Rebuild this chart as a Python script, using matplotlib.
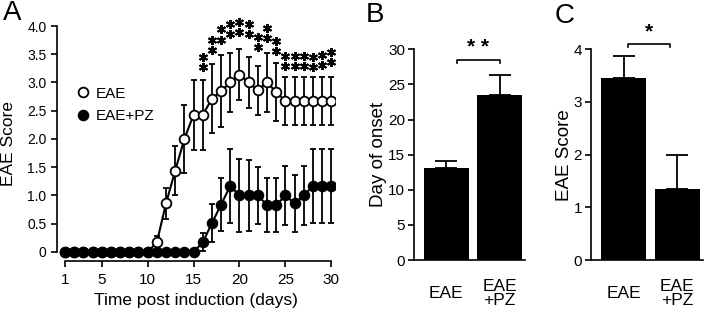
import numpy as np
import matplotlib
matplotlib.use('Agg')
import matplotlib.pyplot as plt
from matplotlib.lines import Line2D

plt.rcParams['font.family'] = ['Liberation Sans', 'DejaVu Sans']

# Panel A: clinical score over time
days = np.arange(1, 31)
eae_mean = [0] * 10 + [0.17, 0.86, 1.44, 2.0, 2.43, 2.43, 2.71, 2.85, 3.0, 3.14,
                       3.0, 2.86, 3.0, 2.83, 2.67, 2.67, 2.67, 2.67, 2.67, 2.67]
eae_err = [0] * 10 + [0.12, 0.27, 0.44, 0.6, 0.62, 0.62, 0.61, 0.63, 0.53, 0.45,
                      0.45, 0.44, 0.52, 0.52, 0.43, 0.43, 0.43, 0.43, 0.43, 0.43]
pz_mean = [0] * 15 + [0.17, 0.51, 0.84, 1.17, 1.0, 1.0, 1.0, 0.83, 0.83, 1.0,
                      0.86, 1.0, 1.17, 1.17, 1.17]
pz_err = [0] * 15 + [0.16, 0.34, 0.47, 0.66, 0.64, 0.63, 0.5, 0.48, 0.48, 0.52,
                     0.51, 0.52, 0.65, 0.65, 0.65]
sig_days = np.arange(16, 31)
sig_low = [3.28, 3.57, 3.76, 3.85, 3.89, 3.86, 3.62, 3.78, 3.55, 3.29,
           3.29, 3.29, 3.27, 3.31, 3.36]

# Panel B: day of onset
groups = ['EAE', 'EAE\n+PZ']
onset_mean = [13.1, 23.5]
onset_err = [1.0, 2.8]

# Panel C: max score
score_mean = [3.45, 1.34]
score_err = [0.42, 0.66]

W, H = 711, 315
fig = plt.figure(figsize=(W / 100, H / 100), dpi=100)


def style_axes(ax):
    for s in ['top', 'right']:
        ax.spines[s].set_visible(False)
    for s in ['left', 'bottom']:
        ax.spines[s].set_linewidth(1.2)
    ax.tick_params(width=1.2, length=4, direction='out')


# ---- A ----
axA = fig.add_axes([57 / W, 1 - 261 / H, 278 / W, 235 / H])
style_axes(axA)
axA.errorbar(days, eae_mean, yerr=eae_err, color='black', lw=1.5, elinewidth=1.3,
             capsize=2, capthick=1.3, marker='o', ms=7, mfc='white', mec='black',
             mew=1.3, zorder=2)
axA.errorbar(days, pz_mean, yerr=pz_err, color='black', lw=1.5, elinewidth=1.3,
             capsize=2, capthick=1.3, marker='o', ms=7, mfc='black', mec='black',
             mew=1.3, zorder=3)
for d, y in zip(sig_days, sig_low):
    axA.plot([d, d], [y, y + 0.18], linestyle='none', marker=(6, 2, 0), ms=6.5,
             mew=1.4, color='black', clip_on=False)
axA.set_xlim(0.13, 30.4)
axA.set_ylim(-0.16, 4.0)
axA.spines['left'].set_bounds(0, 4)
axA.spines['bottom'].set_bounds(1, 30)
axA.set_xticks([1, 5, 10, 15, 20, 25, 30])
axA.set_yticks(np.arange(0, 4.01, 0.5))
axA.set_yticklabels(['0', '0.5', '1.0', '1.5', '2.0', '2.5', '3.0', '3.5', '4.0'])
axA.tick_params(axis='y', labelsize=10)
axA.tick_params(axis='x', labelsize=11, pad=5)
axA.set_xlabel('Time post induction (days)', fontsize=12.5, labelpad=4)
axA.set_ylabel('EAE Score', fontsize=12.5)
axA.yaxis.set_label_coords(-0.147, 0.5)
handles = [Line2D([], [], linestyle='none', marker='o', ms=7, mfc='white',
                  mec='black', mew=1.3),
           Line2D([], [], linestyle='none', marker='o', ms=7, mfc='black',
                  mec='black', mew=1.3)]
axA.legend(handles, ['EAE', 'EAE+PZ'], loc='upper left', bbox_to_anchor=(0.05, 0.775),
           frameon=False, fontsize=11, handlelength=0.6, handletextpad=0.5,
           labelspacing=0.55, borderpad=0)

# ---- B / C ----
def bar_panel(ax, means, errs, ymax, step, ylabel, stars, x0, x1, ybr, ystar):
    style_axes(ax)
    x = np.arange(len(means))
    ax.bar(x, means, width=0.85, color='black')
    ax.errorbar(x, means, yerr=[[0, 0], errs], fmt='none', ecolor='black',
                elinewidth=1.3, capsize=8, capthick=1.3)
    ax.set_xlim(-0.61, 1.48)
    ax.set_ylim(0, ymax)
    ax.set_yticks(np.arange(0, ymax + 0.01, step))
    ax.set_xticks(x)
    ax.set_xticklabels(groups, fontsize=12.5, va='center', linespacing=0.95)
    ax.tick_params(axis='x', length=0, pad=24)
    ax.tick_params(axis='y', labelsize=11, pad=2.5)
    ax.set_ylabel(ylabel, fontsize=13.5)
    tick = ymax * 0.015
    ax.plot([x0, x0, x1, x1], [ybr - tick, ybr, ybr, ybr - tick], color='black',
            lw=1.2, clip_on=False)
    ax.text((x0 + x1) / 2, ystar, stars, ha='center', va='center', fontsize=15,
            fontweight='bold', clip_on=False)


axB = fig.add_axes([414 / W, 1 - 260 / H, 111 / W, 210.7 / H])
bar_panel(axB, onset_mean, onset_err, 30, 5, 'Day of onset', '* *', 0.2, 1.0,
          28.5, 30.3)
axB.yaxis.set_label_coords(-0.245, 0.5)

axC = fig.add_axes([591 / W, 1 - 260 / H, 112 / W, 210.7 / H])
bar_panel(axC, score_mean, score_err, 4, 1, 'EAE Score', '*', 0.08, 0.86,
          4.11, 4.33)
axC.yaxis.set_label_coords(-0.16, 0.5)

fig.text(3 / W, 1 - 13 / H, 'A', fontsize=20, va='center', ha='left')
fig.text(366 / W, 1 - 15 / H, 'B', fontsize=20, va='center', ha='left')
fig.text(555 / W, 1 - 16 / H, 'C', fontsize=20, va='center', ha='left')

fig.savefig('out.png', dpi=100)
